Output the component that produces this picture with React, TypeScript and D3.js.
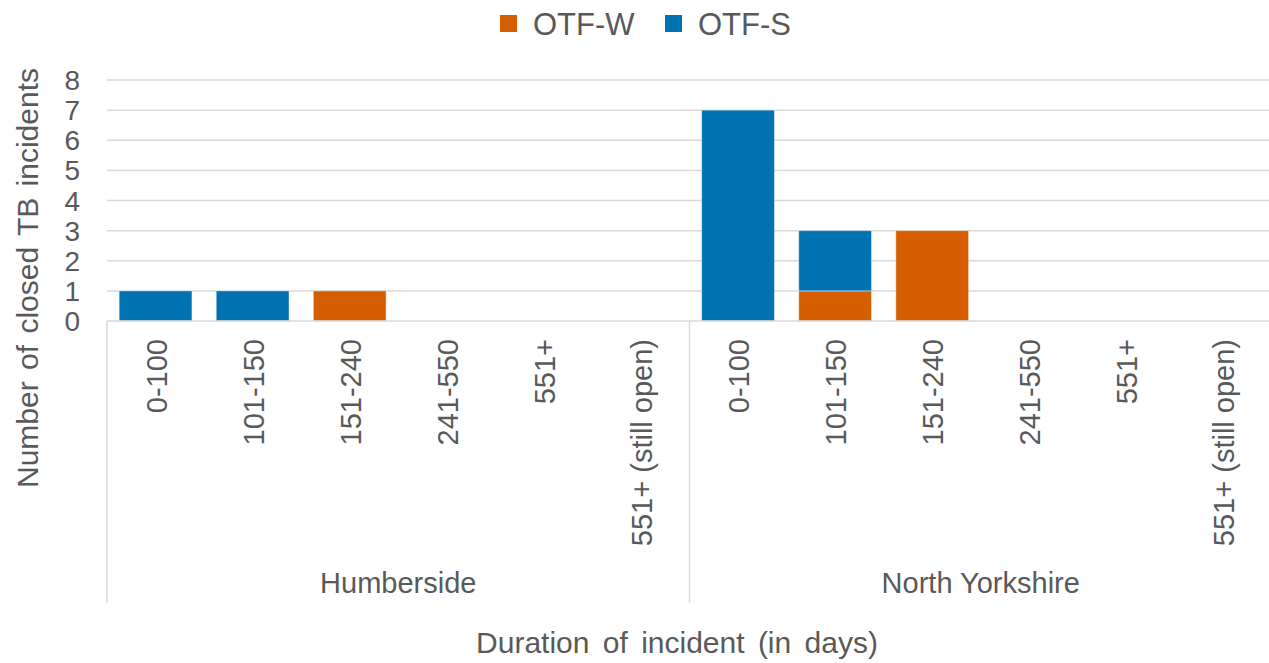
import React, { useRef, useEffect } from 'react';
import * as d3 from 'd3';

// Chart data
const regions = ['Humberside', 'North Yorkshire'];
const durations = ['0-100', '101-150', '151-240', '241-550', '551+', '551+ (still open)'];
const seriesNames = ['OTF-W', 'OTF-S'];
const otfW = [
    [0, 0, 1, 0, 0, 0],
    [0, 1, 3, 0, 0, 0],
];
const otfS = [
    [1, 1, 0, 0, 0, 0],
    [7, 2, 0, 0, 0, 0],
];
const yTicks = [0, 1, 2, 3, 4, 5, 6, 7, 8];

const COLORS = ['#D55E00', '#0072B2'];
const TEXT = '#595959';
const GRID = '#D9D9D9';
const FONT = '"Liberation Sans", Arial, sans-serif';

export default function App() {
    const svgRef = useRef<SVGSVGElement>(null);

    useEffect(() => {
        if (!svgRef.current) return;

        const width = 1269;
        const height = 663;
        const plot = { left: 107, right: 1272, top: 80, bottom: 321 };

        const svg = d3.select(svgRef.current)
            .attr('width', width)
            .attr('height', height)
            .attr('viewBox', `0 0 ${width} ${height}`)
            .style('font-family', FONT);

        svg.selectAll('*').remove();

        const xGroup = d3.scaleBand<string>()
            .domain(regions)
            .range([plot.left, plot.right]);

        const xInner = d3.scaleBand<string>()
            .domain(durations)
            .range([0, xGroup.bandwidth()])
            .paddingInner(0.25)
            .paddingOuter(0.125);

        const y = d3.scaleLinear()
            .domain([0, 8])
            .range([plot.bottom, plot.top]);

        // gridlines
        svg.append('g')
            .selectAll('line')
            .data(yTicks.filter(t => t > 0))
            .join('line')
            .attr('x1', plot.left)
            .attr('x2', plot.right)
            .attr('y1', d => y(d))
            .attr('y2', d => y(d))
            .attr('stroke', GRID)
            .attr('stroke-width', 1.5);

        // y tick labels
        svg.append('g')
            .selectAll('text')
            .data(yTicks)
            .join('text')
            .attr('x', 80)
            .attr('y', d => y(d))
            .attr('dy', '0.36em')
            .attr('text-anchor', 'end')
            .attr('fill', TEXT)
            .attr('font-size', '28px')
            .text(d => d);

        // stacked bars
        const bars = svg.append('g');
        regions.forEach((region, gi) => {
            durations.forEach((dur, ci) => {
                const x0 = xGroup(region)! + xInner(dur)!;
                const w = otfW[gi][ci];
                const s = otfS[gi][ci];
                const segs = [
                    { lo: 0, hi: w, color: COLORS[0] },
                    { lo: w, hi: w + s, color: COLORS[1] },
                ];
                segs.filter(sg => sg.hi > sg.lo).forEach(sg => {
                    bars.append('rect')
                        .attr('x', x0)
                        .attr('y', y(sg.hi))
                        .attr('width', xInner.bandwidth())
                        .attr('height', y(sg.lo) - y(sg.hi))
                        .attr('fill', sg.color)
                        .attr('stroke', '#ffffff')
                        .attr('stroke-opacity', 0.45)
                        .attr('stroke-width', 1);
                });
            });
        });

        // category axis
        const axis = svg.append('g');
        axis.append('line')
            .attr('x1', plot.left)
            .attr('x2', plot.right)
            .attr('y1', plot.bottom)
            .attr('y2', plot.bottom)
            .attr('stroke', GRID)
            .attr('stroke-width', 1.5);

        regions.forEach(region => {
            axis.append('line')
                .attr('x1', xGroup(region)!)
                .attr('x2', xGroup(region)!)
                .attr('y1', plot.bottom)
                .attr('y2', 603)
                .attr('stroke', GRID)
                .attr('stroke-width', 1.5);

            durations.forEach(dur => {
                const cx = xGroup(region)! + xInner(dur)! + xInner.bandwidth() / 2;
                axis.append('text')
                    .attr('transform', `translate(${cx + 11},339) rotate(-90)`)
                    .attr('text-anchor', 'end')
                    .attr('fill', TEXT)
                    .attr('font-size', '29px')
                    .text(dur);
            });

            axis.append('text')
                .attr('x', xGroup(region)! + xGroup.bandwidth() / 2)
                .attr('y', 593)
                .attr('text-anchor', 'middle')
                .attr('fill', TEXT)
                .attr('font-size', '29px')
                .text(region);
        });

        // axis titles
        svg.append('text')
            .attr('transform', 'translate(38,278) rotate(-90)')
            .attr('text-anchor', 'middle')
            .attr('fill', TEXT)
            .attr('font-size', '30px')
            .attr('word-spacing', '3px')
            .text('Number of closed TB incidents');

        svg.append('text')
            .attr('x', 677)
            .attr('y', 653)
            .attr('text-anchor', 'middle')
            .attr('fill', TEXT)
            .attr('font-size', '30px')
            .attr('word-spacing', '5px')
            .text('Duration of incident (in days)');

        // legend
        const legend = svg.append('g');
        const legendX = [500, 665];
        seriesNames.forEach((name, i) => {
            legend.append('rect')
                .attr('x', legendX[i])
                .attr('y', 15)
                .attr('width', 17)
                .attr('height', 17)
                .attr('fill', COLORS[i]);
            legend.append('text')
                .attr('x', legendX[i] + 33)
                .attr('y', 35)
                .attr('fill', TEXT)
                .attr('font-size', '31px')
                .text(name);
        });
    }, []);

    return (
        <div style={{ position: 'absolute', left: 0, top: 0 }}>
            <svg ref={svgRef} style={{ display: 'block' }} />
        </div>
    );
}
